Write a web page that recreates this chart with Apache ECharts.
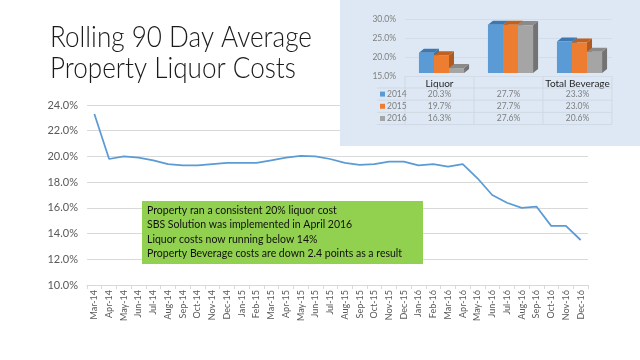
<!DOCTYPE html>
<html><head><meta charset="utf-8">
<script src="https://cdn.jsdelivr.net/npm/echarts@6/dist/echarts.min.js"></script>
<style>html,body{margin:0;padding:0;background:#fff}#c{width:640px;height:360px}</style>
</head><body><div id="c"></div>
<script>
// ---- main chart data ----
const months = ['Mar-14','Apr-14','May-14','Jun-14','Jul-14','Aug-14','Sep-14','Oct-14','Nov-14','Dec-14',
  'Jan-15','Feb-15','Mar-15','Apr-15','May-15','Jun-15','Jul-15','Aug-15','Sep-15','Oct-15','Nov-15','Dec-15',
  'Jan-16','Feb-16','Mar-16','Apr-16','May-16','Jun-16','Jul-16','Aug-16','Sep-16','Oct-16','Nov-16','Dec-16'];
const rolling = [23.3,19.8,20.0,19.9,19.7,19.4,19.3,19.3,19.4,19.5,
  19.5,19.5,19.7,19.9,20.05,20.0,19.8,19.5,19.35,19.4,19.6,19.6,
  19.3,19.4,19.2,19.4,18.3,17.0,16.4,16.0,16.1,14.6,14.6,13.5];
const titleLines = ['Rolling 90 Day Average','Property Liquor Costs'];
const noteLines = ['Property ran a consistent 20% liquor cost','SBS Solution was implemented in April 2016',
  'Liquor costs now running below 14%','Property Beverage costs are down 2.4 points as a result'];
// ---- inset data ----
const insetCategories = ['Liquor','Wine','Total Beverage'];
const insetYears = ['2014','2015','2016'];
const v2014 = [20.3,27.7,23.3];
const v2015 = [19.7,27.7,23.0];
const v2016 = [16.3,27.6,20.6];
const insetValues = [v2014, v2015, v2016];

const yearColors = ['#5b9bd5','#ed7d31','#a5a5a5'];
const topColors = ['#3e78b3','#c0611f','#8a8a8a'];
const sideColors = ['#41719c','#ae5a21','#737373'];

const chart = echarts.init(document.getElementById('c'), null, {renderer:'canvas'});

function make3D(idx){
  return function(params, api){
    const c = api.value(0), v = api.value(1);
    const p = api.coord([c, v]);
    const b = api.coord([c, 15]);
    const band = api.size([1,0])[0];
    const bw = band*0.218;
    const lift = 3;
    const x0 = p[0] + (idx-1.5)*bw + 2, x1 = x0 + bw;
    const yt = p[1]-lift, yb = b[1]-lift;
    const dx = 5, dy = 4;
    return {type:'group', children:[
      {type:'polygon', shape:{points:[[x1,yt],[x1+dx,yt-dy],[x1+dx,yb-dy],[x1,yb]]}, style:{fill:sideColors[idx]}},
      {type:'polygon', shape:{points:[[x0,yt],[x0+dx,yt-dy],[x1+dx,yt-dy],[x1,yt]]}, style:{fill:topColors[idx]}},
      {type:'rect', shape:{x:x0,y:yt,width:bw,height:yb-yt}, style:{fill:yearColors[idx]}}
    ]};
  };
}

const baseFont = 'Lato, "Noto Sans", sans-serif';

const option = {
  animation:false,
  textStyle:{fontFamily:baseFont},
  grid:[
    {left:87, right:52, top:105, bottom:75},
    {left:405, right:28, top:19, bottom:284, zlevel:1}
  ],
  xAxis:[
    {type:'category', data:months, gridIndex:0, boundaryGap:true,
      axisLine:{lineStyle:{color:'#d9d9d9'}},
      axisTick:{show:true, length:4, lineStyle:{color:'#d9d9d9'}},
      axisLabel:{rotate:90, fontSize:9, color:'#595959', margin:5, interval:0}},
    {type:'category', data:insetCategories, gridIndex:1, zlevel:1, z:2,
      axisLine:{show:false}, axisTick:{show:false},
      axisLabel:{fontSize:10, color:'#262626', margin:3}}
  ],
  yAxis:[
    {type:'value', gridIndex:0, min:10, max:24, interval:2,
      axisLabel:{formatter:v=>v.toFixed(1)+'%', fontSize:11, color:'#595959', margin:9},
      splitLine:{lineStyle:{color:'#d9d9d9'}}, axisLine:{show:false}, axisTick:{show:false}},
    {type:'value', gridIndex:1, min:15, max:30, interval:5, zlevel:1, z:2,
      axisLabel:{formatter:v=>v.toFixed(1)+'%', fontSize:8.5, color:'#7f7f7f', margin:9},
      splitLine:{lineStyle:{color:'#d3dde9'}}, axisLine:{show:false}, axisTick:{show:false}}
  ],
  series:[
    {type:'line', data:rolling, xAxisIndex:0, yAxisIndex:0, symbol:'none',
      lineStyle:{color:'#5b9bd5', width:1.75}, itemStyle:{color:'#5b9bd5'}},
    ...insetValues.map((vals, k)=>({
      type:'custom', name:insetYears[k], xAxisIndex:1, yAxisIndex:1, zlevel:1, z:5+k,
      renderItem:make3D(k), data:vals.map((v,i)=>[i,v])
    }))
  ],
  graphic:[
    {type:'rect', zlevel:1, z:-10, silent:true, shape:{x:340,y:0,width:300,height:146}, style:{fill:'#dde8f4'}},
    {type:'text', x:50, y:22, scaleX:0.9, style:{text:titleLines.join('\n'), fontSize:29, lineHeight:31,
      fontFamily:baseFont, fontWeight:300, fill:'#1a1a1a'}},
    {type:'rect', shape:{x:142,y:201,width:281,height:63}, style:{fill:'#92d050'}},
    {type:'text', x:147, y:203, style:{text:noteLines.join('\n'), fontSize:10.5, lineHeight:14.5,
      fontFamily:baseFont, fill:'#111'}}
  ]
};
chart.setOption(option);

// data table under inset chart, laid out from the inset axis positions
const colX = insetCategories.map((c,i)=>chart.convertToPixel({xAxisIndex:1}, i));
const band = colX.length>1 ? colX[1]-colX[0] : 69;
const leftEdge = colX[0]-band/2, rightEdge = colX[colX.length-1]+band/2;
const rowTop = 88, rowH = 12.2;
const tbl = [];
for(let r=0;r<=insetYears.length;r++){
  tbl.push({type:'line', zlevel:1, z:20, shape:{x1:377,y1:rowTop+r*rowH,x2:rightEdge,y2:rowTop+r*rowH}, style:{stroke:'#cfd9e5',lineWidth:1}});
}
for(let c=0;c<=insetCategories.length;c++){
  const x = leftEdge + c*band;
  tbl.push({type:'line', zlevel:1, z:20, shape:{x1:x,y1:rowTop-12,x2:x,y2:rowTop+insetYears.length*rowH}, style:{stroke:'#cfd9e5',lineWidth:1}});
}
insetYears.forEach((y,r)=>{
  const cy = rowTop + r*rowH + rowH/2;
  tbl.push({type:'rect', zlevel:1, z:21, shape:{x:380,y:cy-2.5,width:5,height:5}, style:{fill:yearColors[r]}});
  tbl.push({type:'text', zlevel:1, z:21, x:387, y:cy, style:{text:y, fontSize:8.5, fill:'#7f7f7f', verticalAlign:'middle', fontFamily:baseFont}});
  insetValues[r].forEach((v,i)=>{
    tbl.push({type:'text', zlevel:1, z:21, x:colX[i], y:cy, style:{text:v.toFixed(1)+'%', fontSize:8.5, fill:'#7f7f7f', align:'center', verticalAlign:'middle', fontFamily:baseFont}});
  });
});
chart.setOption({graphic: option.graphic.concat(tbl)}, {replaceMerge:['graphic']});
</script>
</body></html>
